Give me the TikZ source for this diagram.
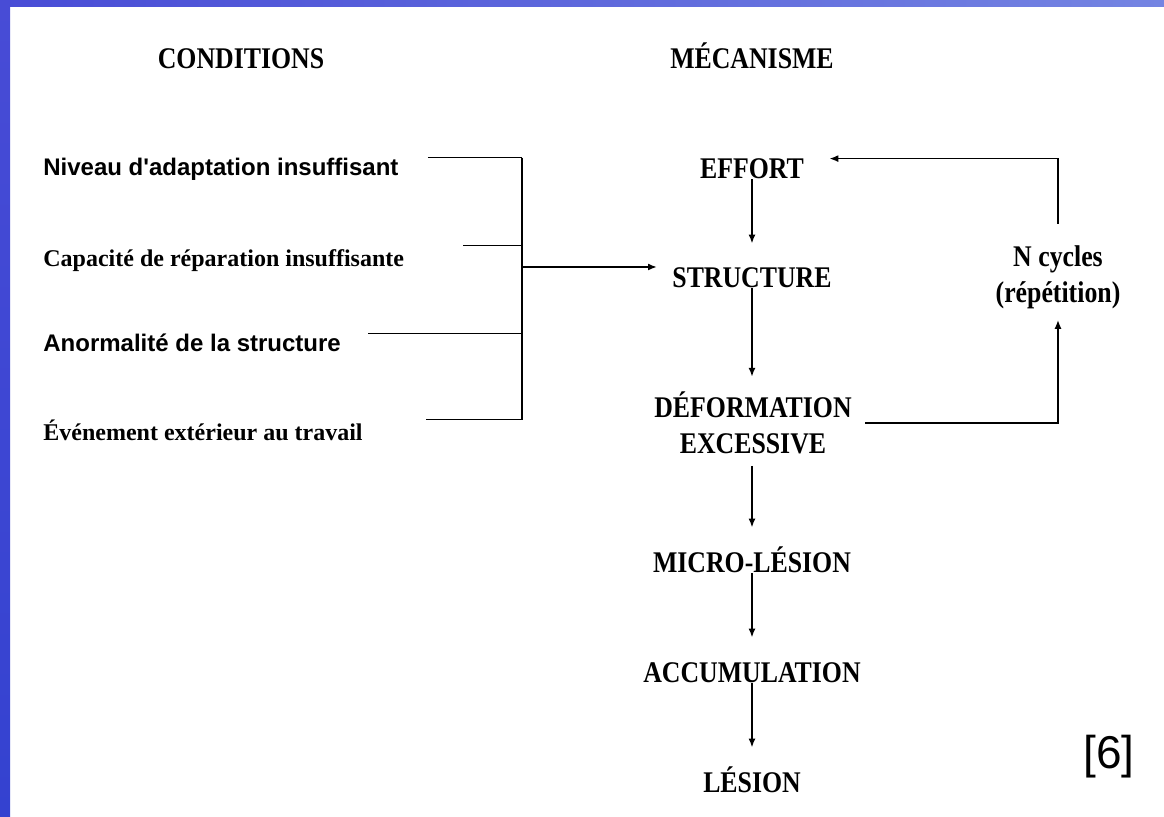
\documentclass[tikz,border=0pt]{standalone}
\usepackage{fontspec}
\setmainfont{Liberation Serif}
\newfontfamily\mechfont[FakeStretch=0.86]{Liberation Serif}
\newfontfamily\condsansfont{Liberation Sans}
\usetikzlibrary{arrows.meta}

\begin{document}
\begin{tikzpicture}[x=0.5pt, y=-0.5pt,
    conn/.style={line width=0.9pt},
    arr/.style={line width=0.9pt, -{Latex[length=4.5pt,width=3.5pt]}},
    head/.style={inner sep=0pt, anchor=base, font=\mechfont\bfseries\fontsize{15pt}{18pt}\selectfont},
    mech/.style={head, text height=10pt, text depth=0pt},
    condsans/.style={inner sep=0pt, anchor=base west, text height=9pt, text depth=2pt,
        font=\condsansfont\bfseries\fontsize{12pt}{14pt}\selectfont},
    condserif/.style={condsans, text height=10.5pt, font=\bfseries\fontsize{12pt}{14pt}\selectfont}]

    % slide background
    \useasboundingbox (0,0) rectangle (1164,817);
    \fill[white] (0,0) rectangle (1164,817);
    \shade[left color={rgb,255:red,72;green,76;blue,214}, right color={rgb,255:red,116;green,132;blue,226}] (0,0) rectangle (1164,7);
    \shade[top color={rgb,255:red,72;green,76;blue,214}, bottom color={rgb,255:red,52;green,66;blue,208}] (0,0) rectangle (10,817);

    % titles
    \node[head] (conditions) at (241,69) {CONDITIONS};
    \node[head] (mecanisme) at (752,69) {MÉCANISME};

    % conditions
    \node[condsans] (niveau) at (43,176) {Niveau d\textquotesingle adaptation insuffisant};
    \node[condserif] (capacite) at (43,267) {Capacité de réparation insuffisante};
    \node[condsans] (anormalite) at (43,352) {Anormalité de la structure};
    \node[condserif] (evenement) at (43,441) {Événement extérieur au travail};

    % mechanism (multi-line nodes sit on their last line)
    \node[mech] (effort) at (752,179) {EFFORT};
    \node[mech] (structure) at (752,288) {STRUCTURE};
    \node[head, align=center] (deformation) at (753,454) {DÉFORMATION\\EXCESSIVE};
    \node[mech] (microlesion) at (752,573) {MICRO-LÉSION};
    \node[mech] (accumulation) at (752,683) {ACCUMULATION};
    \node[mech] (lesion) at (752,793) {LÉSION};
    \node[head, align=center] (ncycles) at (1058,303) {N cycles\\(répétition)};
    \node[inner sep=0pt, font=\condsansfont\fontsize{23pt}{26pt}\selectfont] (ref) at (1109,757) {[6]};

    % bracket
    \coordinate (brk) at (522,267);
    \draw[conn] ([xshift=14.5pt]niveau.north east) -- (niveau.north east -| brk);
    \draw[conn] ([xshift=29.5pt]capacite.north east) -- (capacite.north east -| brk);
    \draw[conn] ([xshift=13.5pt]anormalite.north east) -- (anormalite.north east -| brk);
    \draw[conn] ([xshift=31.5pt]evenement.north east) -- (evenement.north east -| brk);
    \draw[conn] (niveau.north east -| brk) -- (evenement.north east -| brk);
    \draw[arr, shorten >=7.5pt] (brk) -- (brk -| structure.west);

    % chain
    \draw[arr, shorten >=12pt] (effort.south) -- (structure.north);
    \draw[arr, shorten >=7.5pt] (structure.south) -- (structure.south |- deformation.north);
    \draw[arr, shorten <=5.5pt, shorten >=12.5pt] (deformation.south -| structure.south) -- (microlesion.north);
    \draw[arr, shorten >=12.5pt] (microlesion.south) -- (accumulation.north);
    \draw[arr, shorten >=12.5pt] (accumulation.south) -- (lesion.north);

    % loop
    \draw[arr, shorten <=6.5pt, shorten >=5pt] (deformation.east) -| (ncycles.south);
    \draw[arr, shorten <=11pt, shorten >=12.5pt] (ncycles.north) |- (effort.north east);
\end{tikzpicture}
\end{document}
